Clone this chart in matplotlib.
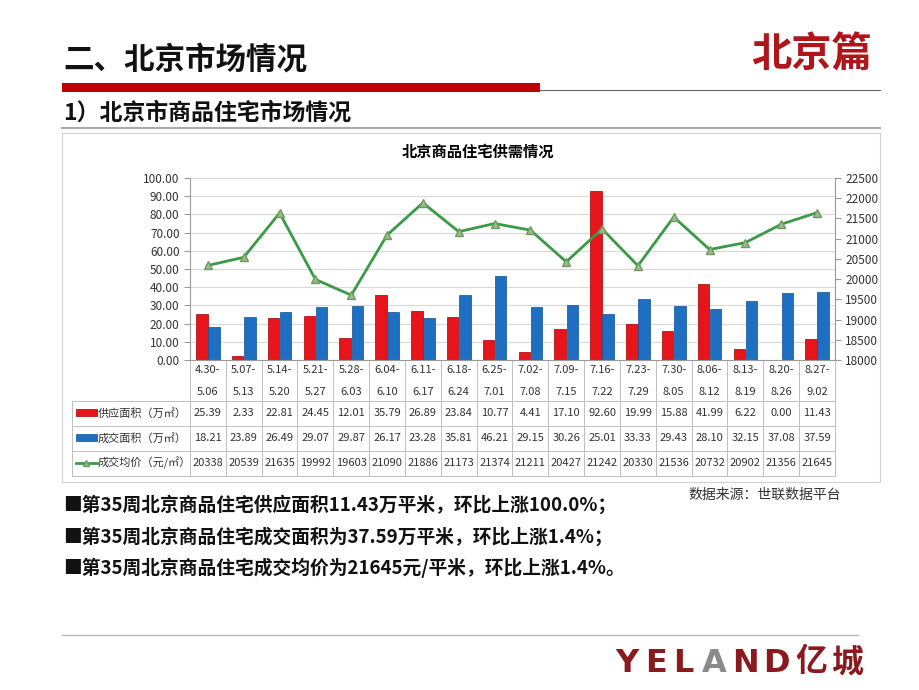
import numpy as np
import matplotlib
matplotlib.use("Agg")
import matplotlib.pyplot as plt
from matplotlib.patches import Rectangle
from matplotlib.lines import Line2D
from matplotlib.ticker import FormatStrFormatter
from matplotlib.transforms import blended_transform_factory

plt.rcParams['font.family'] = ['Noto Sans CJK SC', 'DejaVu Sans']

# Weekly periods
week_start = ["4.30-", "5.07-", "5.14-", "5.21-", "5.28-", "6.04-", "6.11-", "6.18-", "6.25-",
              "7.02-", "7.09-", "7.16-", "7.23-", "7.30-", "8.06-", "8.13-", "8.20-", "8.27-"]
week_end = ["5.06", "5.13", "5.20", "5.27", "6.03", "6.10", "6.17", "6.24", "7.01",
            "7.08", "7.15", "7.22", "7.29", "8.05", "8.12", "8.19", "8.26", "9.02"]

# Supply area, deal area (10k m2), average price (yuan/m2)
supply = [25.39, 2.33, 22.81, 24.45, 12.01, 35.79, 26.89, 23.84, 10.77,
          4.41, 17.10, 92.60, 19.99, 15.88, 41.99, 6.22, 0.00, 11.43]
deals = [18.21, 23.89, 26.49, 29.07, 29.87, 26.17, 23.28, 35.81, 46.21,
         29.15, 30.26, 25.01, 33.33, 29.43, 28.10, 32.15, 37.08, 37.59]
price = [20338, 20539, 21635, 19992, 19603, 21090, 21886, 21173, 21374,
         21211, 20427, 21242, 20330, 21536, 20732, 20902, 21356, 21645]

row_names = ["供应面积（万㎡）", "成交面积（万㎡）", "成交均价（元/㎡）"]

bullets = ["■第35周北京商品住宅供应面积11.43万平米，环比上涨100.0%；",
           "■第35周北京商品住宅成交面积为37.59万平米，环比上涨1.4%；",
           "■第35周北京商品住宅成交均价为21645元/平米，环比上涨1.4%。"]

RED = '#E8141B'
BLUE = '#1E6FC2'
GREEN = '#3A9A46'
W, H = 920, 690

fig = plt.figure(figsize=(9.2, 6.9), dpi=100)

# background axes in pixel coordinates for slide decorations
bg = fig.add_axes([0, 0, 1, 1])
bg.set_xlim(0, W)
bg.set_ylim(H, 0)
bg.axis('off')

bg.text(63, 60, "二、北京市场情况", fontsize=22, weight='bold', va='center', color='#111111')
bg.text(872, 55, "北京篇", fontsize=29, weight='bold', va='center', ha='right', color='#B0151B')
bg.add_patch(Rectangle((62, 83), 478, 9, color='#C00000', lw=0))
bg.plot([540, 880], [90, 90], color='#666666', lw=0.8)
bg.text(63, 113, "1）北京市商品住宅市场情况", fontsize=16.5, weight='bold', va='center', color='#111111')
bg.plot([62, 880], [128, 128], color='#AAAAAA', lw=1.5)

# chart frame and title
bg.add_patch(Rectangle((62, 133), 818, 349, fill=False, edgecolor='#D0D0D0', lw=0.8))
bg.text(478, 152, "北京商品住宅供需情况", fontsize=11, weight='bold', ha='center', va='center')

# main chart
ax = fig.add_axes([190 / W, 1 - 360 / H, (835 - 190) / W, (360 - 178) / H])
x = np.arange(len(supply))
ax.bar(x - 0.17, supply, 0.32, color=RED, edgecolor='#A00000', lw=0.5, zorder=2)
ax.bar(x + 0.17, deals, 0.32, color=BLUE, edgecolor='#0E4F94', lw=0.5, zorder=2)
ax.set_xlim(-0.5, len(supply) - 0.5)
ax.set_ylim(0, 100)
ax.set_yticks(range(0, 101, 10))
ax.yaxis.set_major_formatter(FormatStrFormatter('%.2f'))
ax.set_xticks([])
ax.grid(axis='y', color='#D9D9D9', lw=0.8)
ax.set_axisbelow(True)
for s in ['top', 'right']:
    ax.spines[s].set_visible(False)
for s in ['left', 'bottom']:
    ax.spines[s].set_color('#999999')
ax.tick_params(axis='y', labelsize=8.5, colors='#999999', labelcolor='#333333', length=4)

ax2 = ax.twinx()
ax2.plot(x, price, color=GREEN, lw=2, marker='^', ms=6, mfc='#9BBB8A', mec='#6E9A5E', zorder=3)
ax2.set_ylim(18000, 22500)
ax2.set_yticks(range(18000, 22501, 500))
for s in ['top', 'left', 'bottom']:
    ax2.spines[s].set_visible(False)
ax2.spines['right'].set_color('#999999')
ax2.tick_params(axis='y', labelsize=8.5, colors='#999999', labelcolor='#333333', length=4)

# data table under the chart
trans = blended_transform_factory(ax.transData, bg.transData)
grid_c = '#BFBFBF'
for b in np.arange(-0.5, len(supply), 1.0):
    bg.add_line(Line2D([b, b], [360, 476], transform=trans, color=grid_c, lw=0.7))
for yy in [401, 426, 451, 476]:
    bg.plot([72, 835], [yy, yy], color=grid_c, lw=0.7)
bg.plot([72, 72], [401, 476], color=grid_c, lw=0.7)

for i in range(len(supply)):
    bg.text(i, 370, week_start[i], transform=trans, ha='center', va='center', fontsize=8, color='#333333')
    bg.text(i, 392, week_end[i], transform=trans, ha='center', va='center', fontsize=8, color='#333333')
    bg.text(i, 413, f"{supply[i]:.2f}", transform=trans, ha='center', va='center', fontsize=8, color='#333333')
    bg.text(i, 438, f"{deals[i]:.2f}", transform=trans, ha='center', va='center', fontsize=8, color='#333333')
    bg.text(i, 463, f"{price[i]}", transform=trans, ha='center', va='center', fontsize=8, color='#333333')

# legend keys in the table
bg.add_patch(Rectangle((76, 409), 21, 7, color=RED, ec='#A00000', lw=0.5))
bg.add_patch(Rectangle((76, 434), 21, 7, color=BLUE, ec='#0E4F94', lw=0.5))
bg.plot([76, 97], [463, 463], color=GREEN, lw=2)
bg.plot([86.5], [463], marker='^', ms=5, mfc='#9BBB8A', mec='#6E9A5E', color=GREEN)
for yy, name in zip([413, 438, 463], row_names):
    bg.text(98, yy, name, fontsize=8, va='center', color='#333333')

# notes
bg.text(688, 495, "数据来源：世联数据平台", fontsize=10, va='center', color='#333333')
for yy, t in zip([505, 537, 568], bullets):
    bg.text(63, yy, t, fontsize=13.5, weight='bold', va='center', color='#111111')

# footer line and logo
bg.plot([62, 858], [635, 635], color='#BBBBBB', lw=1)
logo = [("Y", 627, '#8B1A1F'), ("E", 656, '#8B1A1F'), ("L", 683, '#8B1A1F'), ("A", 714, '#8A8A8A'),
        ("N", 746, '#8B1A1F'), ("D", 776, '#8B1A1F'), ("亿", 811, '#8B1A1F'), ("城", 847, '#8B1A1F')]
for ch, cx, c in logo:
    bg.text(cx, 663, ch, fontsize=23, weight='bold', ha='center', va='center', color=c,
            family=['DejaVu Sans', 'Noto Sans CJK SC'])

fig.savefig("out.png", dpi=100)
